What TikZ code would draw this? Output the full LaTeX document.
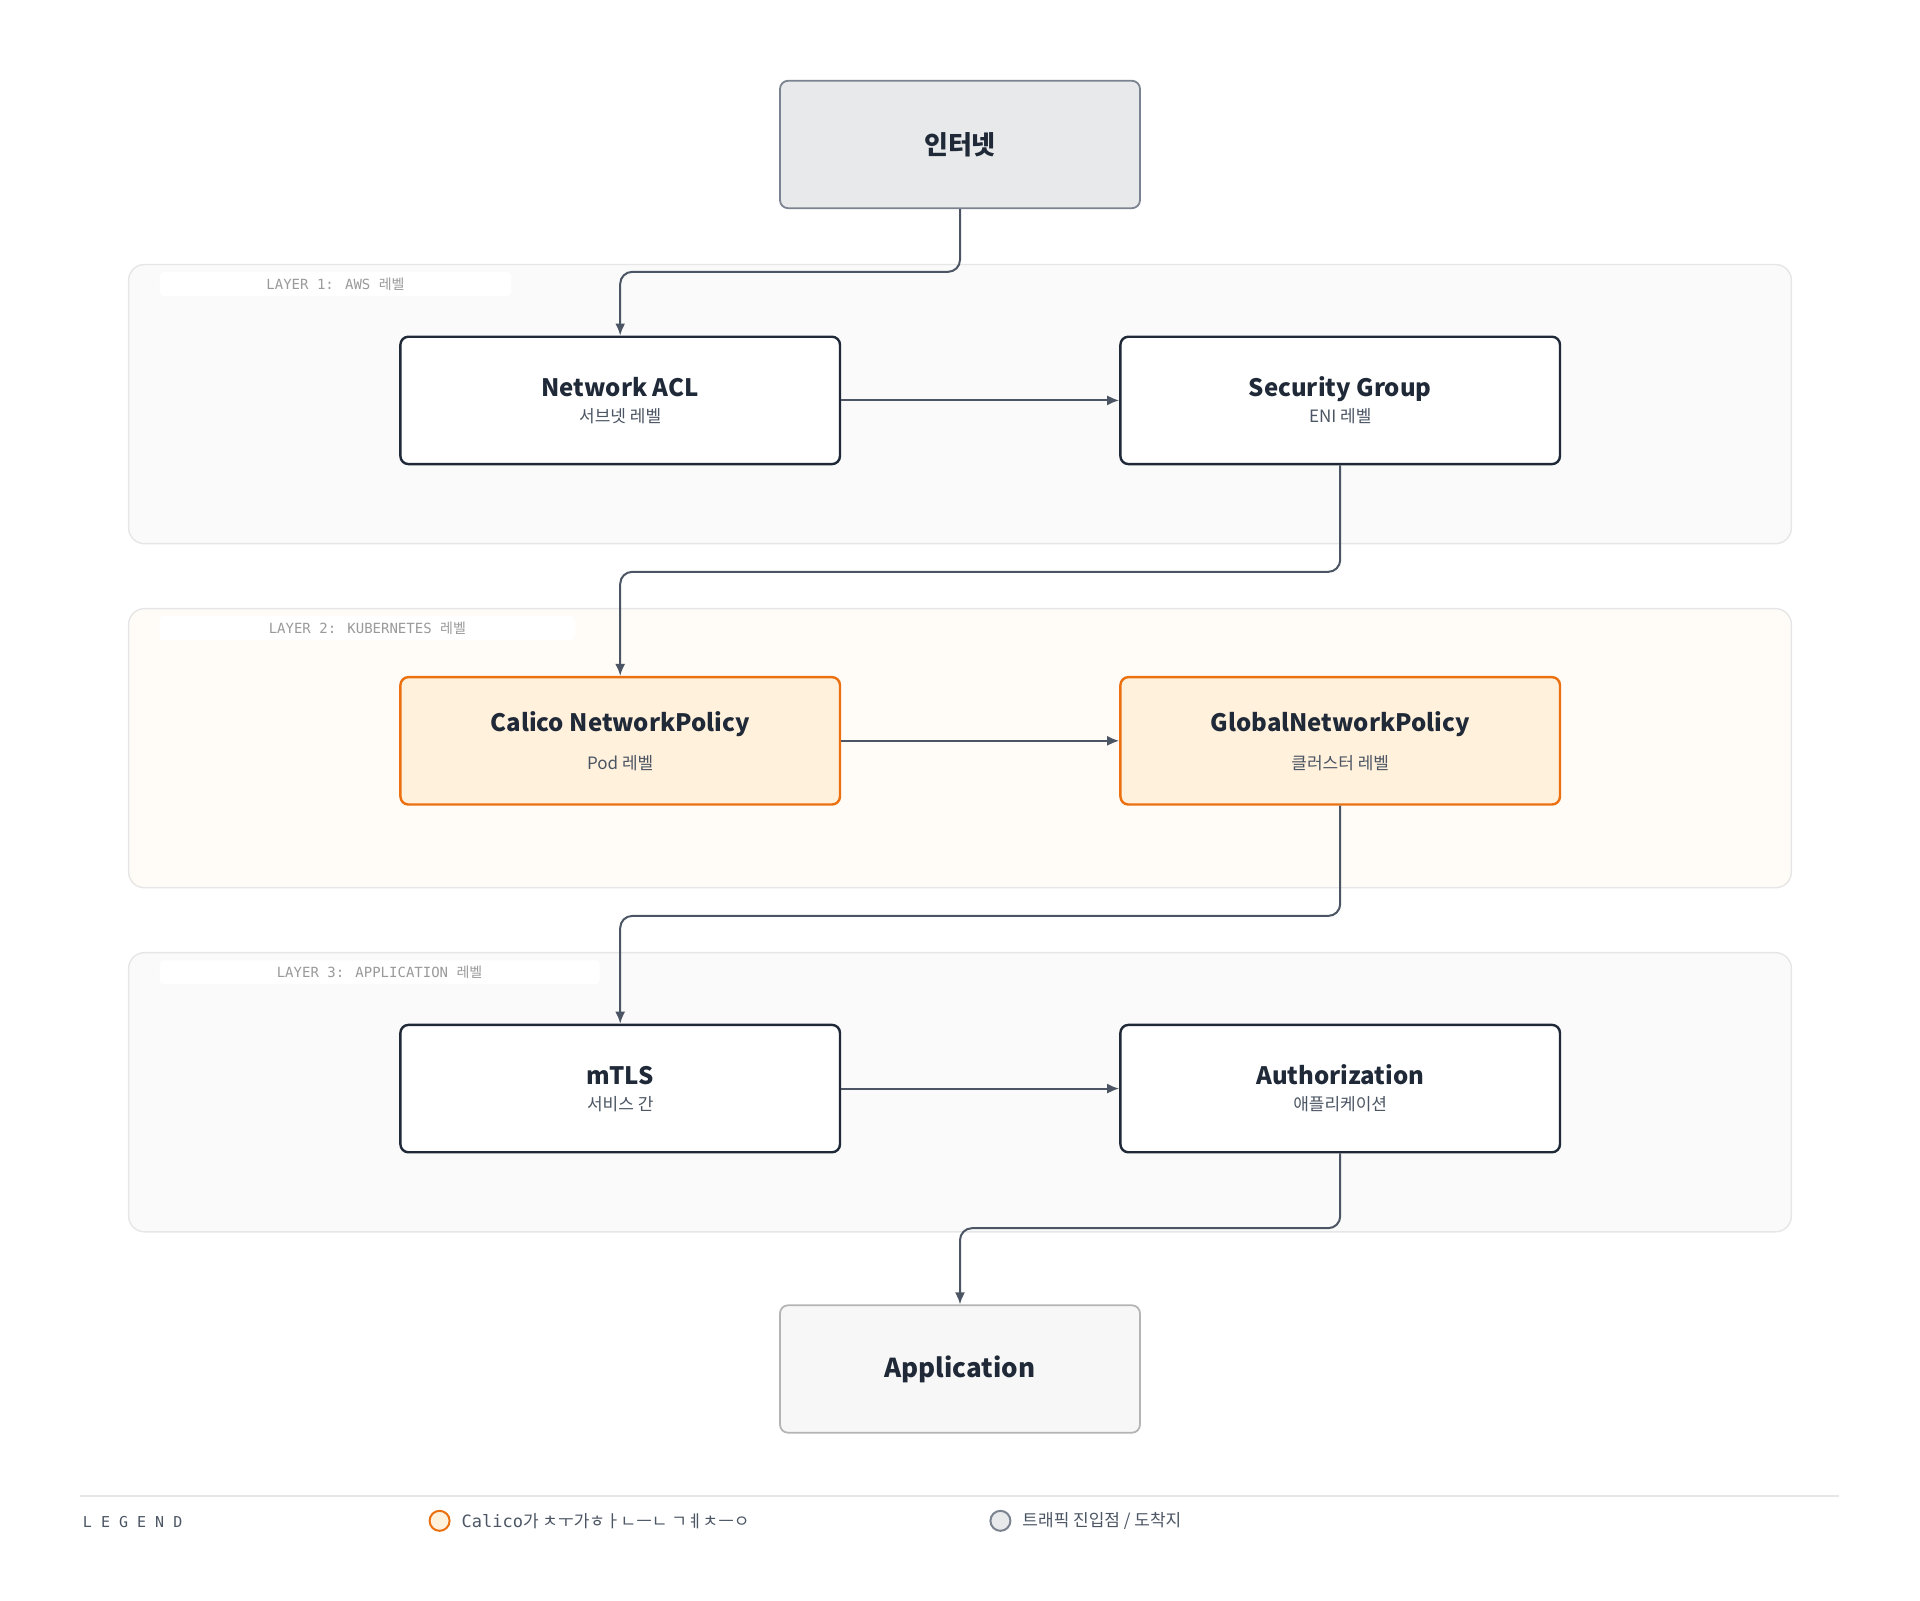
\documentclass[tikz,border=0pt]{standalone}
\usepackage{fontspec}
\setmainfont{Noto Sans CJK KR}
\newfontfamily\cjk{Noto Sans CJK KR}
\newfontfamily\monofont{DejaVu Sans Mono}
\usetikzlibrary{positioning,arrows.meta}
\definecolor{ink}{HTML}{1F2937}
\definecolor{subink}{HTML}{4B5563}
\definecolor{calico}{HTML}{EA7010}
\definecolor{calicofill}{HTML}{FFF1DC}
\definecolor{layerfill}{HTML}{FAFAFA}
\definecolor{layerline}{HTML}{E6E6E6}
\definecolor{warmfill}{HTML}{FFFBF6}
\definecolor{netfill}{HTML}{E8E9EB}
\definecolor{netline}{HTML}{7B8390}
\definecolor{appfill}{HTML}{F7F7F7}
\definecolor{appline}{HTML}{B4B4B4}
\definecolor{labelgray}{HTML}{9A9A9A}
\tikzset{
  box/.style={draw=ink, line width=1.2pt, fill=white, rounded corners=4pt,
    minimum width=219.8pt, minimum height=63.7pt, align=center, text=ink},
  calicobox/.style={box, draw=calico, fill=calicofill},
  endbox/.style={box, minimum width=180pt, draw=netline, fill=netfill, line width=0.9pt},
  layer/.style={draw=layerline, fill=layerfill, rounded corners=8pt, line width=0.7pt},
  layerlabel/.style={fill=white, rounded corners=2pt, inner sep=0pt, text=labelgray,
    font=\monofont\fontsize{7}{8}\selectfont},
  flow/.style={draw=subink, line width=1pt, rounded corners=6pt, -{Latex[length=6pt,width=5pt]}},
}
\newcommand{\boxtext}[3][1pt]{{\fontsize{12}{14}\selectfont\bfseries #2}\\[#1]{\fontsize{8.5}{10}\selectfont\color{subink}#3}}
\begin{document}
\begin{tikzpicture}[x=0.6123pt, y=-0.6123pt]
  \useasboundingbox (0,0) rectangle (1568,1306.7);
  % layers
  \draw [layer] (105,216) rectangle (1463,444);
  \draw [layer, fill=warmfill] (105,497) rectangle (1463,725);
  \draw [layer] (105,778) rectangle (1463,1006);
  \node [layerlabel, minimum width=176pt, minimum height=12pt] at (274,232) {LAYER 1: AWS {\cjk 레벨}};
  \node [layerlabel, minimum width=208pt, minimum height=12pt] at (300,513) {LAYER 2: KUBERNETES {\cjk 레벨}};
  \node [layerlabel, minimum width=220pt, minimum height=12pt] at (310,794) {LAYER 3: APPLICATION {\cjk 레벨}};
  % nodes
  \node [endbox] (internet) at (784,118) {\fontsize{13}{15}\selectfont\bfseries 인터넷};
  \node [box] (nacl) at (506.5,327) {\boxtext{Network ACL}{서브넷 레벨}};
  \node [box] (sg) at (1094.5,327) {\boxtext{Security Group}{ENI 레벨}};
  \node [calicobox] (cnp) at (506.5,605) {\boxtext[7pt]{Calico NetworkPolicy}{Pod 레벨}};
  \node [calicobox] (gnp) at (1094.5,605) {\boxtext[7pt]{GlobalNetworkPolicy}{클러스터 레벨}};
  \node [box] (mtls) at (506.5,889) {\boxtext{mTLS}{서비스 간}};
  \node [box] (authz) at (1094.5,889) {\boxtext{Authorization}{애플리케이션}};
  \node [endbox, draw=appline, fill=appfill] (app) at (784,1118) {\fontsize{13}{15}\selectfont\bfseries Application};
  % connectors
  \draw [flow] (internet.south) |- (645,222) -| (nacl.north);
  \draw [flow] (nacl.east) -- (sg.west);
  \draw [flow] (sg.south) |- (800,467) -| (cnp.north);
  \draw [flow] (cnp.east) -- (gnp.west);
  \draw [flow] (gnp.south) |- (800,748) -| (mtls.north);
  \draw [flow] (mtls.east) -- (authz.west);
  \draw [flow] (authz.south) |- (940,1003) -| (app.north);
  % legend
  \draw [layerline, line width=1pt] (65,1222) -- (1502,1222);
  \node [anchor=west, text=subink, font=\monofont\fontsize{7.5}{9}\selectfont] (legend) at (62,1243) {L E G E N D};
  \node [circle, draw=calico, fill=calicofill, line width=1pt, minimum size=10pt, inner sep=0pt] (calicodot) at (359,1242) {};
  \node [right=2pt of calicodot, text=subink, font=\fontsize{8.5}{10}\selectfont] (calicotext) {\monofont Calico\cjk 가 ㅊㅜ가ㅎㅏㄴㅡㄴ ㄱㅖㅊㅡㅇ};
  \node [circle, draw=netline, fill=netfill, line width=1pt, minimum size=10pt, inner sep=0pt] (netdot) at (817,1242) {};
  \node [right=2pt of netdot, text=subink, font=\fontsize{8.5}{10}\selectfont] (nettext) {트래픽 진입점 / 도착지};
\end{tikzpicture}
\end{document}
